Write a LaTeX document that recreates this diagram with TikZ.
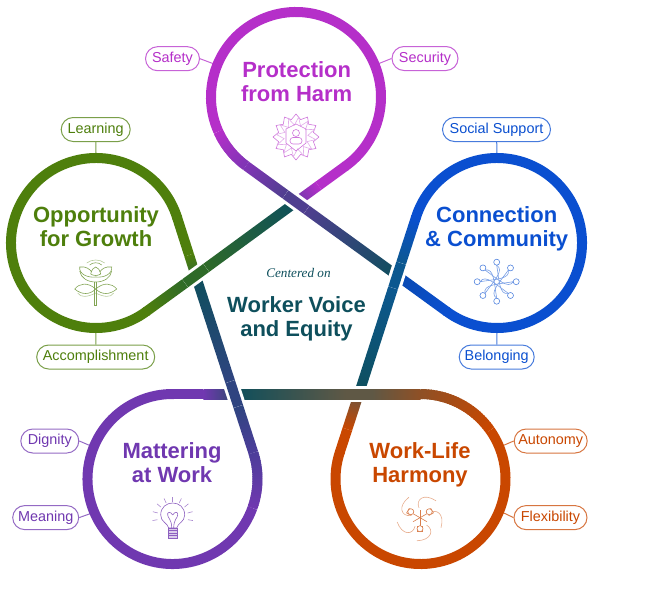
\documentclass[tikz,border=0pt]{standalone}
\usepackage{fontspec}
\setmainfont{Liberation Sans}
\newfontfamily\centeredfont{Liberation Serif}
\usetikzlibrary{calc,positioning,shapes.misc}

\definecolor{protc}{HTML}{B52FC9}
\definecolor{growc}{HTML}{4E7F0C}
\definecolor{connc}{HTML}{0A4FD0}
\definecolor{matc}{HTML}{7038B0}
\definecolor{harmc}{HTML}{C94700}
\definecolor{tealc}{HTML}{0E4F5C}

\tikzset{
  loopline/.style={line width=10pt},
  casing/.style={draw=white,line width=16pt},
  pill/.style={draw=#1!75,text=#1,fill=white,rounded rectangle,line width=1pt,
    minimum height=24pt,inner xsep=2pt,inner ysep=0pt,text height=10.4pt,text depth=3pt,
    font=\fontsize{14.4}{14}\selectfont},
  pilllink/.style={draw=#1!75,line width=1pt},
  heading/.style={text=#1,font=\fontsize{22}{24}\selectfont\bfseries,align=center,anchor=base},
  iconline/.style={draw=#1,line width=.6pt},
}

% strokes whose colour runs along the line
\newcommand{\gradline}[4]{%
  \path let \p1=($(#2)-(#1)$), \n1={atan2(\y1,\x1)}, \n2={veclen(\x1,\y1)} in
    \pgfextra{\xdef\gradang{\n1}\xdef\gradlen{\n2}};
  \begin{scope}[transform canvas={shift={(#1)},rotate=\gradang}]
    \shade[left color=#3,right color=#4] (0,-5) rectangle (\gradlen,5);
  \end{scope}
}
\newcommand{\gradarc}[5]{%
  \foreach \i in {0,...,29}{%
    \pgfmathsetmacro\ta{#2+(#3-(#2))*\i/30}
    \pgfmathsetmacro\tb{#2+(#3-(#2))*min(1,(\i+1.5)/30)}
    \pgfmathtruncatemacro\mixc{100-\i*100/29}
    \colorlet{segc}{#4!\mixc!#5}
    \draw[loopline,draw=segc] ($(#1)+(\ta:\rr)$) -- ($(#1)+(\tb:\rr)$);
  }}

\begin{document}
\begin{tikzpicture}[x=1pt,y=-1pt]

  \useasboundingbox (0,0) rectangle (650,600);

  % Define radius
  \def\rr{85}

  % Mixed colours
  \definecolor{xtopc}{HTML}{4F3F8F}
  \definecolor{xleftc}{HTML}{2E6A28}
  \definecolor{xblc}{HTML}{2F4480}
  \definecolor{xbrc}{HTML}{5F5845}
  \definecolor{xrightc}{HTML}{0C5890}
  \definecolor{protmix}{HTML}{8035B5}
  \definecolor{protend}{HTML}{6A38A8}
  \definecolor{growend}{HTML}{2F6B30}
  \definecolor{connend}{HTML}{0A4AB0}
  \definecolor{matmix}{HTML}{4D3D9A}
  \definecolor{matend}{HTML}{2F4A70}
  \definecolor{harmmix}{HTML}{8F5025}
  \definecolor{harmend}{HTML}{6B5540}

  % Circle centres
  \coordinate (protc0) at (296,97);
  \coordinate (growc0) at (96,243);
  \coordinate (connc0) at (497,243);
  \coordinate (matc0)  at (172.5,479);
  \coordinate (harmc0) at (420.5,479);

  % Crossings
  \coordinate (xtop)   at (296,202.1);
  \coordinate (xleft)  at (195.7,275.6);
  \coordinate (xbl)    at (234.2,394);
  \coordinate (xbr)    at (358.8,394);
  \coordinate (xright) at (397.1,275.5);

  % Tangent points
  \coordinate (protl) at ($(protc0)+(126:\rr)$);
  \coordinate (protr) at ($(protc0)+(54:\rr)$);
  \coordinate (growu) at ($(growc0)+(-18:\rr)$);
  \coordinate (growd) at ($(growc0)+(54:\rr)$);
  \coordinate (connu) at ($(connc0)+(198:\rr)$);
  \coordinate (connd) at ($(connc0)+(126:\rr)$);
  \coordinate (matr)  at ($(matc0)+(-18:\rr)$);
  \coordinate (matt)  at ($(matc0)+(-90:\rr)$);
  \coordinate (harml) at ($(harmc0)+(198:\rr)$);
  \coordinate (harmt) at ($(harmc0)+(-90:\rr)$);

  % Pieces either side of the crossings
  \coordinate (xtopa)   at ($(xtop)!13pt!(protl)$);
  \coordinate (xtopb)   at ($(xtop)!13pt!(xright)$);
  \coordinate (xlefta)  at ($(xleft)!13pt!(growd)$);
  \coordinate (xleftb)  at ($(xleft)!13pt!(xtop)$);
  \coordinate (xbla)    at ($(xbl)!13pt!(matr)$);
  \coordinate (xblb)    at ($(xbl)!13pt!(xleft)$);
  \coordinate (xbra)    at ($(xbr)!13pt!(harmt)$);
  \coordinate (xbrb)    at ($(xbr)!13pt!(xbl)$);
  \coordinate (xrighta) at ($(xright)!13pt!(connu)$);
  \coordinate (xrightb) at ($(xright)!13pt!(xbr)$);

  % Labels and their links
  \node[pill=protc,minimum width=58pt] (safety)   at (172.5,58.7) {Safety};
  \node[pill=protc,minimum width=70pt] (security) at (425,58.5)   {Security};
  \node[pill=growc,minimum width=73pt] (learning) at (95.7,129.5) {Learning};
  \node[pill=growc,minimum width=122pt] (accompl) at (95.7,357)   {Accomplishment};
  \node[pill=connc,minimum width=112pt] (social)  at (496.5,129.5) {Social Support};
  \node[pill=connc,minimum width=79pt] (belong)   at (496.7,357)  {Belonging};
  \node[pill=matc,minimum width=62pt] (dignity)   at (49.8,441)   {Dignity};
  \node[pill=matc,minimum width=70pt] (meaning)   at (45.7,517.6) {Meaning};
  \node[pill=harmc,minimum width=77pt] (autonomy) at (550.7,441)  {Autonomy};
  \node[pill=harmc,minimum width=77pt] (flex)     at (550.5,517.6) {Flexibility};

  \draw[pilllink=protc] (safety.east)   -- ($(protc0)+(-158:\rr)$);
  \draw[pilllink=protc] (security.west) -- ($(protc0)+(-22:\rr)$);
  \draw[pilllink=growc] (learning)      -- ($(growc0)+(-90:\rr)$);
  \draw[pilllink=growc] (accompl)       -- ($(growc0)+(90:\rr)$);
  \draw[pilllink=connc] (social)        -- ($(connc0)+(-90:\rr)$);
  \draw[pilllink=connc] (belong)        -- ($(connc0)+(90:\rr)$);
  \draw[pilllink=matc]  (dignity.east)  -- ($(matc0)+(-158:\rr)$);
  \draw[pilllink=matc]  (meaning.east)  -- ($(matc0)+(157:\rr)$);
  \draw[pilllink=harmc] (autonomy.west) -- ($(harmc0)+(-22:\rr)$);
  \draw[pilllink=harmc] (flex.west)     -- ($(harmc0)+(22:\rr)$);

  % Protection from Harm
  \draw[loopline,draw=protc] (protc0) ++(156:\rr) arc[start angle=156,end angle=415,radius=\rr];
  \gradarc{protc0}{156}{126}{protc}{protmix}
  \gradline{protl}{xtopa}{protmix}{xtopc}
  \gradline{xtopb}{xright}{xtopc}{tealc}
  \coordinate (protm) at ($(protr)!.55!(xtop)$);
  \draw[loopline,draw=protc] (protr) -- (protm);
  \gradline{protm}{xtop}{protc}{protend}

  % Opportunity for Growth
  \draw[loopline,draw=growc] (growc0) ++(-17:\rr) arc[start angle=-17,end angle=-307,radius=\rr];
  \gradline{growd}{xlefta}{growc}{xleftc}
  \gradline{xleftb}{xtop}{xleftc}{tealc}
  \coordinate (growm) at ($(growu)!.65!(xleft)$);
  \draw[loopline,draw=growc] (growu) -- (growm);
  \gradline{growm}{xleft}{growc}{growend}

  % Connection and Community
  \draw[loopline,draw=connc] (connc0) ++(197:\rr) arc[start angle=197,end angle=487,radius=\rr];
  \gradline{connu}{xrighta}{connc}{xrightc}
  \gradline{xrightb}{xbr}{xrightc}{tealc}
  \gradline{connd}{xright}{connc}{connend}

  % Mattering at Work
  \draw[loopline,draw=matc] (matc0) ++(20:\rr) arc[start angle=20,end angle=271,radius=\rr];
  \gradarc{matc0}{20}{-18}{matc}{matmix}
  \gradline{matr}{xbla}{matmix}{xblc}
  \gradline{xblb}{xleft}{xblc}{tealc}
  \coordinate (matm) at ($(matt)!.5!(xbl)$);
  \draw[loopline,draw=matc] (matt) -- (matm);
  \gradline{matm}{xbl}{matc}{matend}

  % Work-Life Harmony
  \draw[loopline,draw=harmc] (harmc0) ++(-35:\rr) arc[start angle=-35,end angle=199,radius=\rr];
  \gradarc{harmc0}{-35}{-90}{harmc}{harmmix}
  \gradline{harmt}{xbra}{harmmix}{xbrc}
  \gradline{xbrb}{xbl}{xbrc}{tealc}
  \coordinate (harmm) at ($(xbr)!.6!(harml)$);
  \draw[loopline,draw=harmc] (harml) -- (harmm);
  \gradline{harmm}{xbr}{harmc}{harmend}

  % Over strands at the crossings
  \draw[casing] (xtopa) -- (xtopb);     \gradline{xtopa}{xtopb}{xtopc}{xtopc}
  \draw[casing] (xlefta) -- (xleftb);   \gradline{xlefta}{xleftb}{xleftc}{xleftc}
  \draw[casing] (xbla) -- (xblb);       \gradline{xbla}{xblb}{xblc}{xblc}
  \draw[casing] (xbra) -- (xbrb);       \gradline{xbra}{xbrb}{xbrc}{xbrc}
  \draw[casing] (xrighta) -- (xrightb); \gradline{xrighta}{xrightb}{xrightc}{xrightc}

  % Headings
  \node[heading=protc] (protect) at (296.7,101)  {Protection\\from Harm};
  \node[heading=growc] (growth)  at (96,246.7)  {Opportunity\\for Growth};
  \node[heading=connc] (connect) at (496.7,246.7) {Connection\\\& Community};
  \node[heading=matc]  (matter)  at (172,482.5)   {Mattering\\at Work};
  \node[heading=harmc] (harmony) at (420,482.5)   {Work-Life\\Harmony};

  % Centre
  \node[text=tealc,font=\fontsize{13.2}{14}\centeredfont\itshape,anchor=base] (centered) at (298.5,277) {Centered on};
  \node[heading=tealc] (voice) at (296.5,336.5) {Worker Voice\\and Equity};

  % Protection icon
  \begin{scope}[shift={(296,137)},iconline=protc!65]
    \draw plot[domain=0:360,samples=25] (\x:{20.5+2.5*cos(12*\x)});
    \draw[protc!40] plot[domain=7.5:367.5,samples=25] (\x:{16+4*cos(12*(\x-7.5))});
    \draw (-10,-8) -- (0,-13) -- (10,-8) -- (10,6) -- (0,14) -- (-10,6) -- cycle;
    \draw (0,-4) circle (3.5);
    \draw[rounded corners=3pt] (-6,0.5) rectangle (6,7);
  \end{scope}

  % Growth icon
  \begin{scope}[shift={(95.7,283)},iconline=growc!70]
    \draw (-6,-18) .. controls (-3,-21) and (3,-21) .. (6,-18);
    \draw[growc!40] (-9,-20) .. controls (-4,-24) and (4,-24) .. (9,-20);
    \draw (-5,-9) .. controls (-4,-14) and (-2,-15) .. (0,-16) .. controls (2,-15) and (4,-14) .. (5,-9) .. controls (2,-7) and (-2,-7) .. cycle;
    \foreach \s in {-1,1}{
      \draw[xscale=\s] (0,-6) .. controls (8,-5) and (17,-9) .. (16,-16) .. controls (10,-17) and (6,-14) .. (4,-11);
      \draw[xscale=\s] (0,-1) .. controls (8,-1) and (15,-5) .. (16,-12);
      \draw[xscale=\s] (0,6) .. controls (8,-1) and (16,0) .. (21,6) .. controls (14,12) and (6,12) .. (0,6);
      \draw[xscale=\s,growc!40] (0,10) .. controls (8,14) and (15,15) .. (18,10);
    }
    \draw (-1,-1) -- (-1,22) -- (1,22) -- (1,-1);
  \end{scope}

  % Connection icon
  \begin{scope}[shift={(496.7,281.7)},iconline=connc!70]
    \foreach \a in {0,45,...,315}{
      \draw (\a:19.5) circle (3);
      \draw[connc!55] (\a:16.5) .. controls (\a+60:3) and (\a+170:14) .. (\a+135:16.5);
    }
  \end{scope}

  % Mattering icon
  \begin{scope}[shift={(172.7,517)},iconline=matc!80]
    \draw (-4,11) .. controls (-5,6) and (-12,5) .. (-12,-2) .. controls (-12,-18) and (12,-18) .. (12,-2) .. controls (12,5) and (5,6) .. (4,11) -- cycle;
    \draw[fill=matc!25] (-4.5,11) rectangle (4.5,21);
    \foreach \y in {13.5,16,18.5}{
      \draw (-4.5,\y) -- (4.5,\y);
    }
    \draw (0,-2) .. controls (-2,-6) and (-6,-5) .. (-5,-2) .. controls (-5,1) and (-1,2) .. (-1,11);
    \draw (0,-2) .. controls (2,-6) and (6,-5) .. (5,-2) .. controls (5,1) and (1,2) .. (1,11);
    \foreach \a in {-190,-165,...,10}{
      \draw[matc!60] (\a:15.5) -- (\a:20.5);
    }
  \end{scope}

  % Harmony icon
  \begin{scope}[shift={(420,517.7)},iconline=harmc!70]
    \foreach \a in {0,72,...,288}{
      \draw[harmc!45,rotate=\a] (9,-4) .. controls (16,-10) and (25,-4) .. (21,10);
    }
    \foreach \a in {30,150,270}{
      \draw[rotate=\a] (0,0) -- (8,0);
      \draw[rotate=\a+60] (0,0) -- (8,0);
      \draw[rotate=\a,fill=white] (9,-2.5) rectangle (14,2.5);
    }
    \foreach \a in {-147,-33,90}{
      \draw[fill=white] (\a:11) circle (3);
    }
  \end{scope}

\end{tikzpicture}
\end{document}
